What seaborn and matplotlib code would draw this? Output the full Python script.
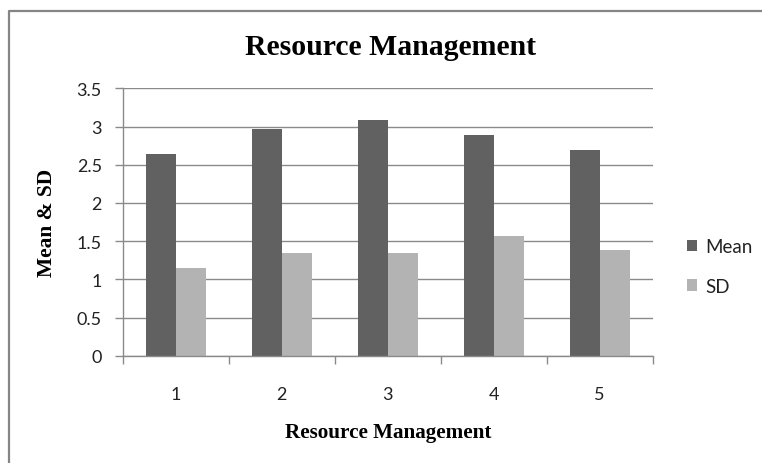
import matplotlib
matplotlib.use("Agg")
import matplotlib.pyplot as plt
from matplotlib.lines import Line2D
import seaborn as sns
import pandas as pd

categories = ["1", "2", "3", "4", "5"]
mean_values = [2.64, 2.97, 3.09, 2.89, 2.69]
sd_values = [1.15, 1.34, 1.35, 1.57, 1.38]
series_names = ["Mean", "SD"]
y_ticks = [0, 0.5, 1, 1.5, 2, 2.5, 3, 3.5]
y_tick_labels = ["0", "0.5", "1", "1.5", "2", "2.5", "3", "3.5"]
title_text = "Resource Management"
x_label = "Resource Management"
y_label = "Mean & SD"

df = pd.DataFrame({
    "cat": categories * 2,
    "value": mean_values + sd_values,
    "series": [series_names[0]] * len(categories) + [series_names[1]] * len(categories),
})

sns.set_theme(style="white")
plt.rcParams["font.family"] = ["Lato", "DejaVu Sans"]

W, H = 762, 464
fig = plt.figure(figsize=(W / 100, H / 100), dpi=100)
fig.patch.set_facecolor("white")
ax = fig.add_axes([122.7 / W, 1 - 356.7 / H, (652.7 - 122.7) / W, (356.7 - 89.3) / H])

grid_col = "#8a8a8a"
palette = {"Mean": "#616161", "SD": "#b3b3b3"}
sns.barplot(data=df, x="cat", y="value", hue="series", palette=palette,
            width=0.566, dodge=True, ax=ax, saturation=1, linewidth=0, legend=True)

ax.set_xlim(-0.5, len(categories) - 0.5)
ax.set_ylim(0, 3.5)
ax.set_yticks(y_ticks)
ax.set_yticklabels(y_tick_labels)
ax.yaxis.grid(True, color=grid_col, linewidth=1.0)
ax.set_axisbelow(True)
for s in ["top", "right"]:
    ax.spines[s].set_visible(False)
for s in ["left", "bottom"]:
    ax.spines[s].set_color(grid_col)
    ax.spines[s].set_linewidth(1.0)

ax.tick_params(axis="y", which="major", direction="out", length=6, width=1,
               color=grid_col, pad=9, labelsize=13, labelcolor="#222222", left=True)
ax.set_xticks(range(len(categories)))
ax.set_xticklabels(categories)
ax.set_xticks([i - 0.5 for i in range(len(categories) + 1)], minor=True)
ax.tick_params(axis="x", which="major", length=0, pad=22, labelsize=13, labelcolor="#222222")
ax.tick_params(axis="x", which="minor", direction="out", length=6, width=1, color=grid_col, bottom=True)

ax.set_xlabel("")
ax.set_ylabel("")
serif = ["Liberation Serif", "DejaVu Serif"]
fig.text(391 / W, 1 - 55 / H, title_text, ha="center", va="baseline",
         fontsize=21.4, fontweight="bold", family=serif, color="black")
fig.text(387.7 / W, 1 - 438 / H, x_label, ha="center", va="baseline",
         fontsize=15.2, fontweight="bold", family=serif, color="black")
fig.text(47 / W, 1 - 223 / H, y_label, ha="center", va="center", rotation=90,
         fontsize=15.4, fontweight="bold", family=serif, color="black")

handles, labels = ax.get_legend_handles_labels()
if ax.get_legend() is not None:
    ax.get_legend().remove()
fig.legend(handles, labels, loc="center left", bbox_to_anchor=(687 / W, 1 - 267.5 / H),
           frameon=False, fontsize=13.5, handlelength=0.55, handleheight=0.55,
           handletextpad=0.43, labelspacing=1.2, borderpad=0, borderaxespad=0,
           labelcolor="#222222")

fig.add_artist(Line2D([9 / W, 9 / W, 1.0], [0.0, 1 - 12 / H, 1 - 12 / H],
                      transform=fig.transFigure, color="#858585", linewidth=1.6))

fig.savefig("out.png", dpi=100, facecolor="white")
